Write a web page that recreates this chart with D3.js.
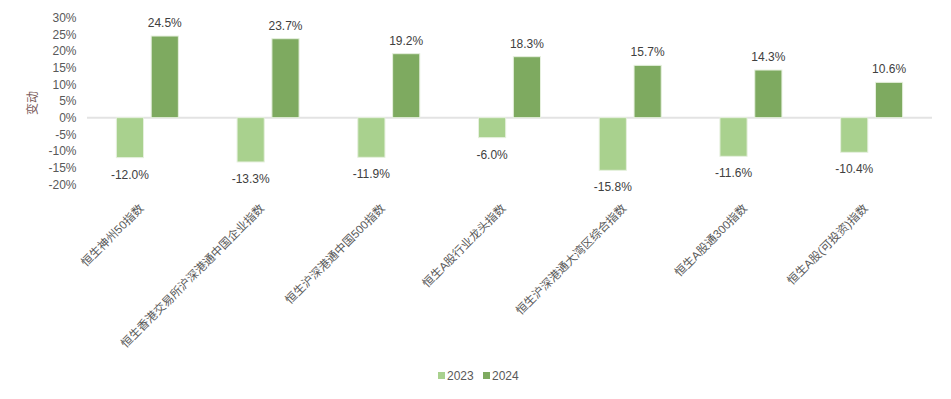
<!DOCTYPE html>
<html>
<head>
<meta charset="utf-8">
<script src="https://cdn.jsdelivr.net/npm/d3@7"></script>
<style>
  body { margin: 0; background: #fff; }
  text { font-family: "Liberation Sans", Arial, "Noto Sans CJK SC", sans-serif; }
</style>
</head>
<body>
<script>
var w = 951;
var h = 399;

var categories = ["恒生神州50指数", "恒生香港交易所沪深港通中国企业指数", "恒生沪深港通中国500指数",
  "恒生A股行业龙头指数", "恒生沪深港通大湾区综合指数", "恒生A股通300指数", "恒生A股(可投资)指数"];
var series = ["2023", "2024"];
var values2023 = [-12.0, -13.3, -11.9, -6.0, -15.8, -11.6, -10.4];
var values2024 = [24.5, 23.7, 19.2, 18.3, 15.7, 14.3, 10.6];
var yTicks = [30, 25, 20, 15, 10, 5, 0, -5, -10, -15, -20];
var colors = ["#a9d18e", "#7eaa60"];

var data = categories.map((c, i) => ({ key: c, v: [values2023[i], values2024[i]] }));

var svg = d3.select("body").append("svg")
  .attr("width", w)
  .attr("height", h);

var x = d3.scaleBand()
  .domain(categories)
  .range([87, 932]);

var y = d3.scaleLinear()
  .domain([-20, 30])
  .range([184.3, 17.7]);

// bars inside each category
var inner = d3.scaleBand()
  .domain(series)
  .range([x.bandwidth() / 2 - 31, x.bandwidth() / 2 + 31])
  .paddingInner(0.22);

// y tick labels
svg.append("g")
  .selectAll("text")
  .data(yTicks)
  .enter()
    .append("text")
    .attr("x", 76.5)
    .attr("y", d => y(d))
    .attr("dy", "0.35em")
    .attr("text-anchor", "end")
    .attr("font-size", 12)
    .attr("fill", "#595959")
    .text(d => d + "%");

// axis title
svg.append("text")
  .attr("transform", "translate(37,103) rotate(-90)")
  .attr("text-anchor", "middle")
  .attr("font-size", 12)
  .attr("fill", "#7b5c5c")
  .text("变动");

// zero line
svg.append("line")
  .attr("x1", 87).attr("x2", 932)
  .attr("y1", y(0)).attr("y2", y(0))
  .attr("stroke", "#e3e3e3")
  .attr("stroke-width", 2);

var groups = svg.selectAll(".cat")
  .data(data)
  .enter()
    .append("g")
    .classed("cat", true)
    .attr("transform", d => "translate(" + x(d.key) + ",0)");

groups.selectAll("rect")
  .data(d => d.v.map((v, j) => ({ s: series[j], v: v, j: j })))
  .enter()
    .append("rect")
    .attr("x", d => inner(d.s))
    .attr("width", inner.bandwidth())
    .attr("y", d => y(Math.max(0, d.v)))
    .attr("height", d => Math.abs(y(d.v) - y(0)))
    .attr("fill", d => colors[d.j])
    .attr("stroke", "#e6f0de")
    .attr("stroke-width", 1);

groups.selectAll(".bar-label")
  .data(d => d.v.map((v, j) => ({ s: series[j], v: v, j: j })))
  .enter()
    .append("text")
    .classed("bar-label", true)
    .attr("x", d => inner(d.s) + inner.bandwidth() / 2)
    .attr("y", d => d.v >= 0 ? y(d.v) - 9 : y(d.v) + 21)
    .attr("text-anchor", "middle")
    .attr("font-size", 12)
    .attr("fill", "#404040")
    .text(d => d.v.toFixed(1) + "%");

// category labels
svg.append("g")
  .selectAll("text")
  .data(categories)
  .enter()
    .append("text")
    .attr("transform", d => "translate(" + (x(d) + x.bandwidth() / 2 - 3) + ",209) rotate(-45)")
    .attr("text-anchor", "end")
    .attr("font-size", 11.6)
    .attr("fill", "#595959")
    .text(d => d);

// legend
var legend = svg.append("g")
  .attr("transform", "translate(438,376)");

var lx = [0, 45];
legend.selectAll("rect")
  .data(series)
  .enter()
    .append("rect")
    .attr("x", (d, i) => lx[i])
    .attr("y", -4)
    .attr("width", 7)
    .attr("height", 7)
    .attr("fill", (d, i) => colors[i]);

legend.selectAll("text")
  .data(series)
  .enter()
    .append("text")
    .attr("x", (d, i) => lx[i] + 9)
    .attr("y", 0)
    .attr("dy", "0.35em")
    .attr("font-size", 12)
    .attr("fill", "#595959")
    .text(d => d);
</script>
</body>
</html>
